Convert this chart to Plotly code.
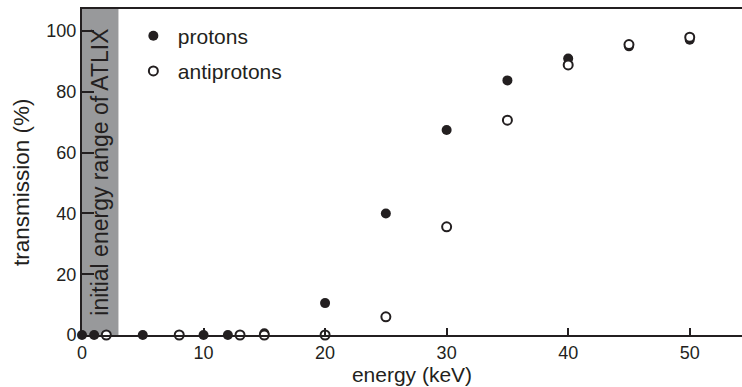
import plotly.graph_objects as go

# Data
proton_energy = [0, 1, 5, 10, 12, 15, 20, 25, 30, 35, 40, 45, 50]
proton_trans = [0, 0, 0, 0, 0, 0.6, 10.5, 40, 67.5, 83.8, 91, 95, 97.2]
antiproton_energy = [2, 8, 13, 15, 20, 25, 30, 35, 40, 45, 50]
antiproton_trans = [0, 0, 0, 0, 0, 6, 35.6, 70.7, 88.9, 95.6, 98]
atlix_range = [0, 3]
x_ticks = [0, 10, 20, 30, 40, 50]
y_ticks = [0, 20, 40, 60, 80, 100]

INK = "#231f20"
FONT = "Liberation Sans"

fig = go.Figure()
fig.add_trace(go.Scatter(
    x=proton_energy, y=proton_trans, mode="markers", name="protons",
    legendgroup="p",
    marker=dict(symbol="circle", size=10, color=INK, line=dict(width=0)),
    cliponaxis=False,
))
fig.add_trace(go.Scatter(
    x=antiproton_energy, y=antiproton_trans, mode="markers", name="antiprotons",
    legendgroup="a",
    marker=dict(symbol="circle", size=9, color="white", line=dict(width=2, color=INK)),
    cliponaxis=False,
))

fig.add_shape(type="rect", xref="x", yref="paper", x0=atlix_range[0], x1=atlix_range[1],
              y0=0, y1=1, fillcolor="#98999b", line=dict(width=0), layer="below")
fig.add_annotation(x=(atlix_range[0] + atlix_range[1]) / 2, y=53.5, xref="x", yref="y",
                   text="initial energy range of ATLIX", textangle=-90, showarrow=False,
                   font=dict(size=23, color=INK, family=FONT))
# y-axis title (placed as annotation to match the reference's vertical position)
fig.add_annotation(x=-0.092, y=0.47, xref="paper", yref="paper",
                   text="transmission (%)", textangle=-90, showarrow=False,
                   xanchor="center", yanchor="middle",
                   font=dict(size=22.5, color=INK, family=FONT))

fig.update_layout(
    width=742, height=387,
    margin=dict(l=82, r=0, t=9, b=52),
    plot_bgcolor="white", paper_bgcolor="white",
    font=dict(family=FONT, size=18, color=INK),
    showlegend=True,
    legend=dict(x=0.071, y=0.98, xanchor="left", yanchor="top",
                bgcolor="rgba(0,0,0,0)", font=dict(size=21, color=INK),
                traceorder="grouped", tracegroupgap=5, itemwidth=39),
    xaxis=dict(range=[0, 54.3], tickvals=x_ticks, ticks="inside", ticklen=7, tickwidth=2,
               tickcolor=INK, showline=True, linewidth=2, linecolor=INK, mirror=True,
               showgrid=False, zeroline=False, automargin=False,
               title=dict(text="energy (keV)", standoff=2, font=dict(size=21)),
               tickfont=dict(size=18)),
    yaxis=dict(range=[0, 107.3], tickvals=y_ticks, ticks="inside", ticklen=12, tickwidth=2,
               tickcolor=INK, showline=True, linewidth=2, linecolor=INK,
               showgrid=False, zeroline=False, automargin=False,
               tickfont=dict(size=18)),
)

fig.write_html("out.html", config={"displayModeBar": False},
               post_script="document.body.style.margin='0';")
